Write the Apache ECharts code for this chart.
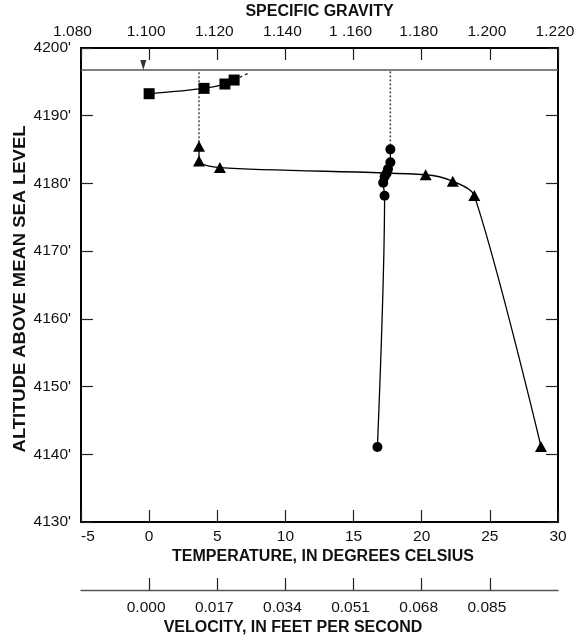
<!DOCTYPE html>
<html>
<head>
<meta charset="utf-8">
<style>
  html, body { margin: 0; padding: 0; background: #fff; }
  #chart { width: 580px; height: 640px; }
</style>
<script src="https://cdn.jsdelivr.net/npm/echarts@6/dist/echarts.min.js"></script>
</head>
<body>
<div id="chart"></div>
<script>
// ---- Data ----
// Temperature profile (triangles), degrees Celsius vs altitude (ft)
const temperature = [28.75, 23.86, 22.28, 20.29, 5.19, 3.66, 3.66];
const temperatureAltitude = [4141.16, 4178.2, 4180.32, 4181.28, 4182.34, 4183.33, 4185.49];
// Specific gravity profile (circles)
const specificGravity = [1.1670, 1.1691, 1.1687, 1.1691, 1.1697, 1.1701, 1.1708, 1.1708];
const gravityAltitude = [4141.08, 4178.17, 4180.09, 4180.98, 4181.48, 4182.12, 4183.11, 4185.03];
// Velocity profile (squares), feet per second
const velocity = [0.000, 0.0137, 0.0189, 0.0212];
const velocityAltitude = [4193.25, 4194.04, 4194.68, 4195.27];
// Extrapolated (dashed) velocity segment
const velocityExtrapolated = [0.0212, 0.0246];
const velocityExtrapolatedAltitude = [4195.27, 4196.23];
// Water surface
const waterSurfaceAltitude = 4196.75;
const waterSurfaceMarkTemperature = -0.43;

// Tick labels
const temperatureTickLabels = ['-5', '0', '5', '10', '15', '20', '25', '30'];
const gravityTickLabels = ['1.080', '1.100', '1.120', '1.140', '1 .160', '1.180', '1.200', '1.220'];
const velocityTickValues = [0.000, 0.017, 0.034, 0.051, 0.068, 0.085];
const velocityTickLabels = ['0.000', '0.017', '0.034', '0.051', '0.068', '0.085'];
const altitudeTickLabels = ["4130'", "4140'", "4150'", "4160'", "4170'", "4180'", "4190'", "4200'"];

const FONT = "'Liberation Sans', Arial, Helvetica, sans-serif";
const zip = (xs, ys) => xs.map((x, i) => [x, ys[i]]);

const chart = echarts.init(document.getElementById('chart'), null, { renderer: 'canvas' });

const labelStyle = { color: '#111', fontFamily: FONT, fontSize: 15.5 };
const tickStyle = { show: true, inside: true, length: 12, lineStyle: { color: '#222', width: 1.2 } };
const boxLine = { show: true, onZero: false, lineStyle: { color: '#000', width: 2 } };

const option = {
  animation: false,
  backgroundColor: '#fff',
  grid: { left: 81, right: 22, top: 48, bottom: 118, containLabel: false },
  xAxis: [
    {
      type: 'value', position: 'bottom', min: -5, max: 30, interval: 5,
      axisLine: boxLine, axisTick: tickStyle, splitLine: { show: false },
      axisLabel: Object.assign({}, labelStyle, {
        margin: 7,
        alignMinLabel: 'left',
        formatter: (v) => temperatureTickLabels[Math.round((v + 5) / 5)]
      })
    },
    {
      type: 'value', position: 'top', min: 1.08, max: 1.22, interval: 0.02,
      axisLine: boxLine, axisTick: tickStyle, splitLine: { show: false },
      axisLabel: Object.assign({}, labelStyle, {
        margin: 8,
        padding: [0, 6, 0, 0],
        formatter: (v) => {
          const i = Math.round((v - 1.08) / 0.02);
          return i === 0 ? '{w|' + gravityTickLabels[i] + '}' : gravityTickLabels[i];
        },
        rich: { w: { fontFamily: FONT, fontSize: 15.5, color: '#111', padding: [0, 11, 0, 0] } }
      })
    },
    {
      type: 'value', position: 'bottom', offset: 68, min: -0.017, max: 0.102, interval: 0.017,
      axisLine: { show: true, onZero: false, lineStyle: { color: '#555', width: 1.3 } },
      axisTick: { show: true, inside: true, length: 12, customValues: velocityTickValues,
                  lineStyle: { color: '#222', width: 1.2 } },
      splitLine: { show: false },
      axisLabel: Object.assign({}, labelStyle, {
        margin: 10,
        padding: [0, 6, 0, 0],
        customValues: velocityTickValues,
        formatter: (v) => {
          const i = velocityTickValues.findIndex(t => Math.abs(t - v) < 1e-6);
          return i >= 0 ? velocityTickLabels[i] : '';
        }
      })
    }
  ],
  yAxis: [
    {
      type: 'value', position: 'left', min: 4130, max: 4200, interval: 10,
      axisLine: boxLine, axisTick: tickStyle, splitLine: { show: false },
      axisLabel: Object.assign({}, labelStyle, {
        margin: 10,
        formatter: (v) => altitudeTickLabels[Math.round((v - 4130) / 10)]
      })
    },
    {
      type: 'value', position: 'right', min: 4130, max: 4200, interval: 10,
      axisLine: boxLine, axisTick: tickStyle, splitLine: { show: false },
      axisLabel: { show: false }
    }
  ],
  graphic: [
    { type: 'text', x: 319.5, y: 12, style: { text: 'SPECIFIC GRAVITY', font: 'bold 16px ' + FONT, fill: '#111', textAlign: 'center', textVerticalAlign: 'middle' } },
    { type: 'text', x: 323, y: 557, style: { text: 'TEMPERATURE, IN DEGREES CELSIUS', font: 'bold 16px ' + FONT, fill: '#111', textAlign: 'center', textVerticalAlign: 'middle' } },
    { type: 'text', x: 293, y: 628, style: { text: 'VELOCITY, IN FEET PER SECOND', font: 'bold 16px ' + FONT, fill: '#111', textAlign: 'center', textVerticalAlign: 'middle' } },
    { type: 'text', x: 20.5, y: 289, rotation: Math.PI / 2, scaleX: 1.15,
      style: { text: 'ALTITUDE ABOVE MEAN SEA LEVEL', font: 'bold 16px ' + FONT, fill: '#111', textAlign: 'center', textVerticalAlign: 'middle' } }
  ],
  series: [
    { // water surface
      type: 'line', xAxisIndex: 0, yAxisIndex: 0, silent: true, symbol: 'none',
      data: [[-5, waterSurfaceAltitude], [30, waterSurfaceAltitude]],
      lineStyle: { color: '#555', width: 1.6 }, z: 2
    },
    { // water surface symbol
      type: 'scatter', xAxisIndex: 0, yAxisIndex: 0, silent: true,
      data: [[waterSurfaceMarkTemperature, waterSurfaceAltitude]],
      symbol: 'triangle', symbolRotate: 180, symbolSize: [6, 10], symbolOffset: [0, -5],
      itemStyle: { color: '#000' }, z: 3
    },
    { // dotted line temperature -> surface
      type: 'line', xAxisIndex: 0, yAxisIndex: 0, silent: true, symbol: 'none',
      data: [[temperature[temperature.length - 1], temperatureAltitude[temperatureAltitude.length - 1]],
             [temperature[temperature.length - 1], waterSurfaceAltitude]],
      lineStyle: { color: '#444', width: 1.5, type: [2, 2] }, z: 2
    },
    { // dotted line gravity -> surface
      type: 'line', xAxisIndex: 1, yAxisIndex: 0, silent: true, symbol: 'none',
      data: [[specificGravity[specificGravity.length - 1], gravityAltitude[gravityAltitude.length - 1]],
             [specificGravity[specificGravity.length - 1], waterSurfaceAltitude]],
      lineStyle: { color: '#444', width: 1.5, type: [2, 2] }, z: 2
    },
    { // dashed velocity extrapolation
      type: 'line', xAxisIndex: 2, yAxisIndex: 0, silent: true, symbol: 'none',
      data: zip(velocityExtrapolated, velocityExtrapolatedAltitude),
      lineStyle: { color: '#222', width: 1.3, type: [3, 3] }, z: 2
    },
    { // temperature
      type: 'line', xAxisIndex: 0, yAxisIndex: 0, smooth: 0.3,
      data: zip(temperature, temperatureAltitude),
      symbol: 'triangle', symbolSize: [12, 11], showSymbol: true,
      lineStyle: { color: '#000', width: 1.3 }, itemStyle: { color: '#000' }, z: 4
    },
    { // specific gravity
      type: 'line', xAxisIndex: 1, yAxisIndex: 0, smooth: 0.3,
      data: zip(specificGravity, gravityAltitude),
      symbol: 'circle', symbolSize: 10, showSymbol: true,
      lineStyle: { color: '#000', width: 1.3 }, itemStyle: { color: '#000' }, z: 4
    },
    { // velocity
      type: 'line', xAxisIndex: 2, yAxisIndex: 0, smooth: 0.3,
      data: zip(velocity, velocityAltitude),
      symbol: 'rect', symbolSize: 11, showSymbol: true,
      lineStyle: { color: '#000', width: 1.3 }, itemStyle: { color: '#000' }, z: 4
    }
  ]
};

chart.setOption(option);
</script>
</body>
</html>
